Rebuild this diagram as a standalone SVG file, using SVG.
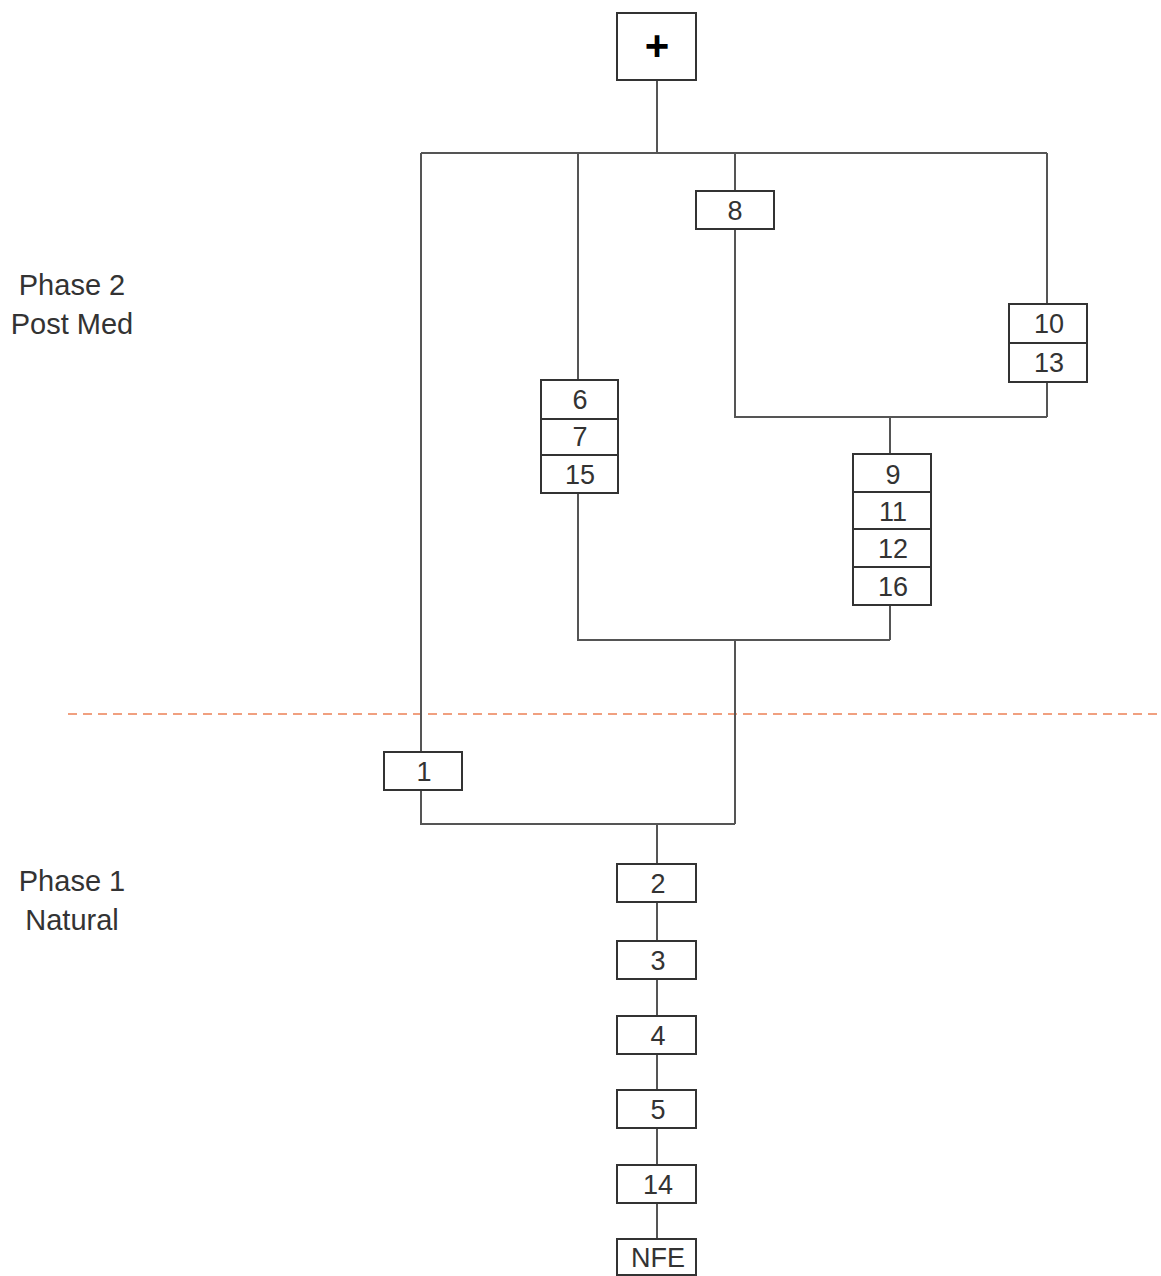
<svg xmlns="http://www.w3.org/2000/svg" width="1161" height="1276" viewBox="0 0 1161 1276">
<style>
.b{fill:#fff;stroke:#333;stroke-width:2}
.d{stroke:#333;stroke-width:2}
.c{fill:none;stroke:#555;stroke-width:2}
.t{font-family:"Liberation Sans",Arial,sans-serif;font-size:27px;fill:#333;text-anchor:middle}
.l{font-family:"Liberation Sans",Arial,sans-serif;font-size:29px;fill:#333;text-anchor:middle}
</style>
<rect width="1161" height="1276" fill="#fff"/>
<line x1="68" y1="714" x2="1161" y2="714" stroke="#f0a080" stroke-width="2" stroke-dasharray="9,6"/>
<g id="connectors">
<path class="c" d="M657 80V153M421 153H1047M421 153V752M421 790V824H735M578 153V380M735 153V191M1047 153V304M735 229V417H1047M1047 382V417M890 417V454M578 493V640H890M890 605V640M735 640V824M657 824V864M657 902V941M657 979V1016M657 1054V1090M657 1128V1165M657 1203V1239"/>
</g>
<g id="labels">
<text class="l" x="72" y="295">Phase 2</text>
<text class="l" x="72" y="334">Post Med</text>
<text class="l" x="72" y="891">Phase 1</text>
<text class="l" x="72" y="930">Natural</text>
</g>
<g id="n-plus"><rect class="b" x="617" y="13" width="79" height="67"/><text x="657" y="60" style="font-family:'Liberation Sans',Arial,sans-serif;font-size:42px;font-weight:bold;fill:#000;text-anchor:middle">+</text></g>
<g id="n-8"><rect class="b" x="696" y="191" width="78" height="38"/><text class="t" x="735" y="220">8</text></g>
<g id="n-10-13"><rect class="b" x="1009" y="304" width="78" height="78"/><line class="d" x1="1009" y1="343" x2="1087" y2="343"/><text class="t" x="1049" y="333">10</text><text class="t" x="1049" y="372">13</text></g>
<g id="n-6-7-15"><rect class="b" x="541" y="380" width="77" height="113"/><line class="d" x1="541" y1="419" x2="618" y2="419"/><line class="d" x1="541" y1="455" x2="618" y2="455"/><text class="t" x="580" y="409">6</text><text class="t" x="580" y="446">7</text><text class="t" x="580" y="484">15</text></g>
<g id="n-9-11-12-16"><rect class="b" x="853" y="454" width="78" height="151"/><line class="d" x1="853" y1="492" x2="931" y2="492"/><line class="d" x1="853" y1="529" x2="931" y2="529"/><line class="d" x1="853" y1="567" x2="931" y2="567"/><text class="t" x="893" y="484">9</text><text class="t" x="893" y="521">11</text><text class="t" x="893" y="558">12</text><text class="t" x="893" y="596">16</text></g>
<g id="n-1"><rect class="b" x="384" y="752" width="78" height="38"/><text class="t" x="424" y="781">1</text></g>
<g id="n-2"><rect class="b" x="617" y="864" width="79" height="38"/><text class="t" x="658" y="893">2</text></g>
<g id="n-3"><rect class="b" x="617" y="941" width="79" height="38"/><text class="t" x="658" y="970">3</text></g>
<g id="n-4"><rect class="b" x="617" y="1016" width="79" height="38"/><text class="t" x="658" y="1045">4</text></g>
<g id="n-5"><rect class="b" x="617" y="1090" width="79" height="38"/><text class="t" x="658" y="1119">5</text></g>
<g id="n-14"><rect class="b" x="617" y="1165" width="79" height="38"/><text class="t" x="658" y="1194">14</text></g>
<g id="n-NFE"><rect class="b" x="617" y="1239" width="79" height="36"/><text class="t" x="658" y="1267">NFE</text></g>
</svg>
